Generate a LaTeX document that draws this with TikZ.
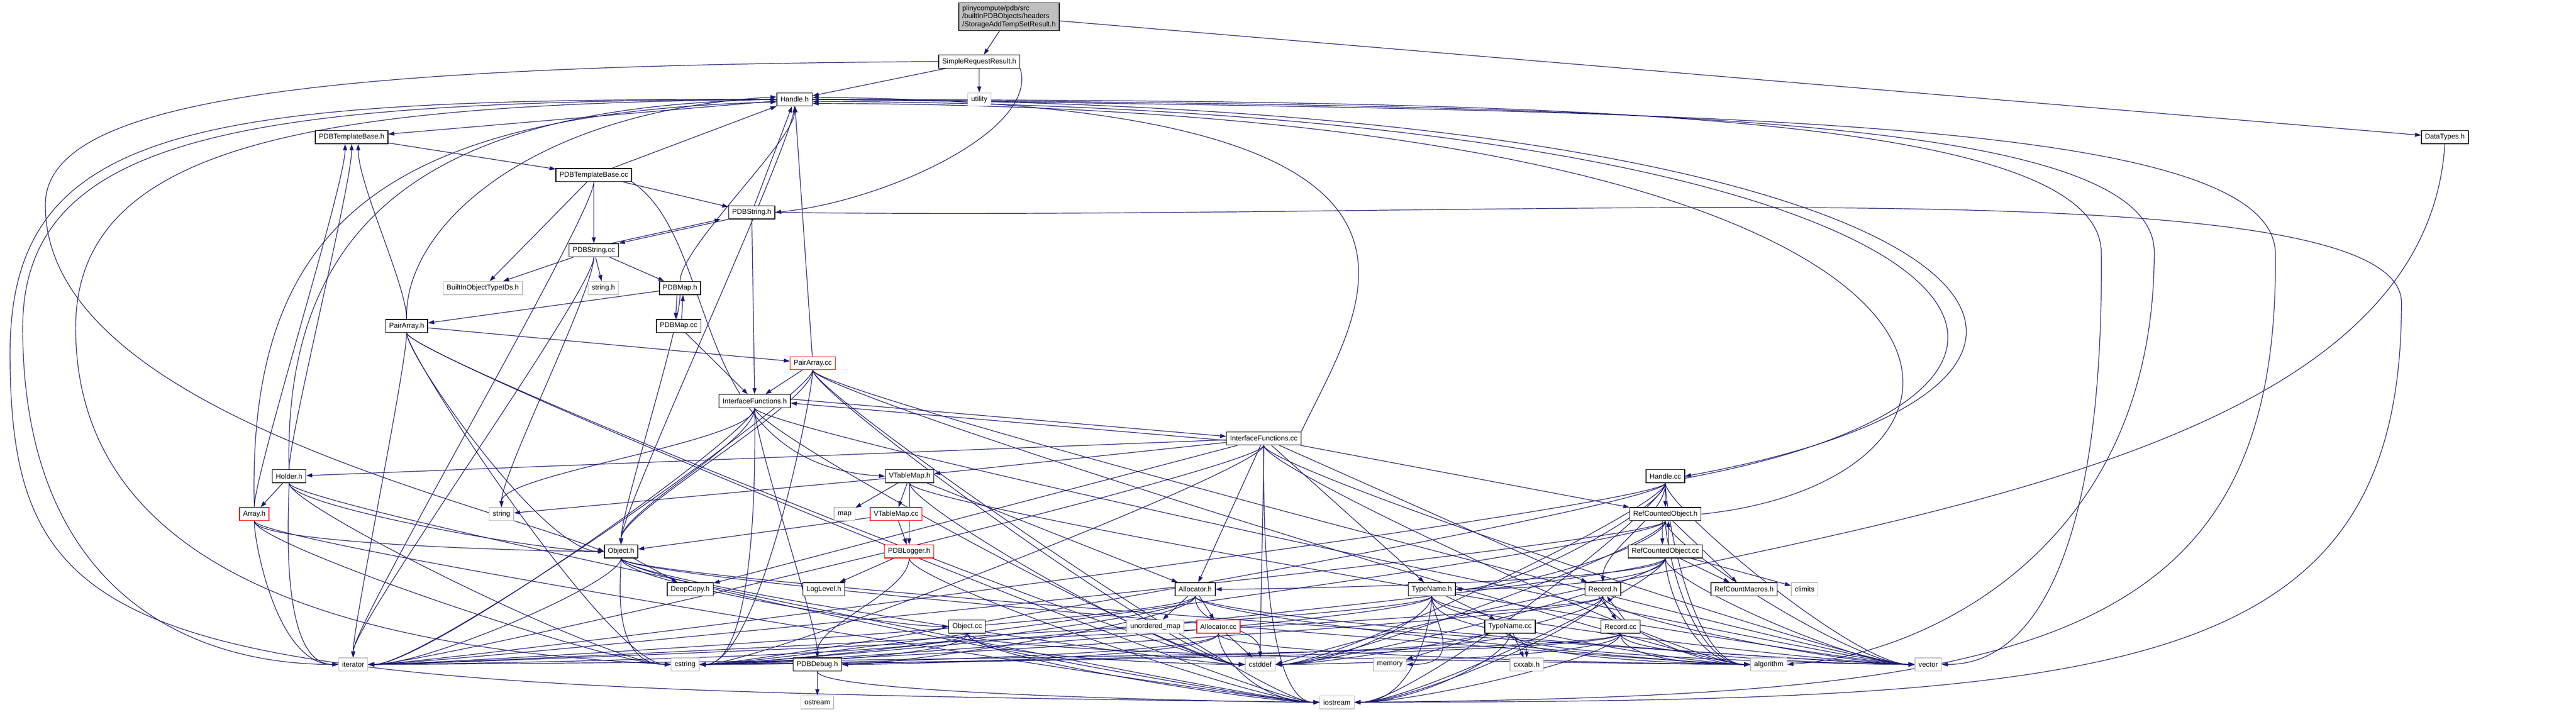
\documentclass[tikz,border=0pt]{standalone}
\usepackage{fontspec}
\setmainfont{Liberation Sans}
\usetikzlibrary{arrows.meta,backgrounds}
\definecolor{edgeblue}{HTML}{191970}
\definecolor{sysgray}{HTML}{BFBFBF}
\definecolor{rootgray}{HTML}{BFBFBF}

\tikzset{
  lft/.style={to path={.. controls +(0,-0.6) and +(-1.2,0) .. (\tikztotarget.west)}},
  rgt/.style={to path={.. controls +(0,-0.6) and +(1.2,0) .. (\tikztotarget.east)}},
  dn/.style={to path={.. controls +(0,-0.8) and +(0,0.8) .. (\tikztotarget)}},
  upw/.style={to path={.. controls +(0,0.8) and +(0,-0.8) .. (\tikztotarget)}},
}

\begin{document}
\begin{tikzpicture}[
  every node/.style={font=\fontsize{4}{4.6}\selectfont},
  file/.style={draw=black, fill=white, line width=0.4pt, minimum height=0.26cm, inner xsep=0.07cm, inner ysep=0pt},
  sys/.style={file, draw=sysgray},
  redfile/.style={file, draw=red},
  rootfile/.style={file, fill=rootgray, align=left, minimum width=1.96cm, minimum height=0.55cm, inner ysep=0.03cm},
  dep/.style={draw=edgeblue, line width=0.35pt, -{Triangle[length=0.12cm,width=0.08cm]}},
]
\useasboundingbox (0,0) rectangle (51.06,-14.11);

% files, one rank per row
\node[rootfile] (root) at (20.00,-0.33) {plinycompute/pdb/src\\/builtInPDBObjects/headers\\/StorageAddTempSetResult.h};
\node[file] (srr) at (19.41,-1.22) {SimpleRequestResult.h};
\node[file] (handleh) at (15.75,-1.97) {Handle.h};
\node[sys] (utility) at (19.41,-1.97) {utility};
\node[file] (tbaseh) at (6.97,-2.72) {PDBTemplateBase.h};
\node[file] (datatypes) at (48.46,-2.72) {DataTypes.h};
\node[file] (tbasecc) at (11.77,-3.47) {PDBTemplateBase.cc};
\node[file] (strh) at (14.90,-4.21) {PDBString.h};
\node[file] (strcc) at (11.77,-4.96) {PDBString.cc};
\node[sys] (typeids) at (9.57,-5.71) {BuiltInObjectTypeIDs.h};
\node[sys] (stringh) at (11.96,-5.71) {string.h};
\node[file] (maph) at (13.48,-5.71) {PDBMap.h};
\node[file] (pairh) at (8.06,-6.46) {PairArray.h};
\node[file] (mapcc) at (13.45,-6.46) {PDBMap.cc};
\node[redfile] (paircc) at (16.11,-7.20) {PairArray.cc};
\node[file] (ifh) at (14.96,-7.95) {InterfaceFunctions.h};
\node[file] (ifcc) at (25.05,-8.69) {InterfaceFunctions.cc};
\node[file] (holder) at (5.73,-9.44) {Holder.h};
\node[file] (vtmaph) at (18.03,-9.44) {VTableMap.h};
\node[file] (handlecc) at (33.01,-9.44) {Handle.cc};
\node[redfile] (array) at (5.04,-10.19) {Array.h};
\node[sys] (string) at (9.94,-10.19) {string};
\node[sys] (map) at (16.74,-10.19) {map};
\node[redfile] (vtmapcc) at (17.76,-10.19) {VTableMap.cc};
\node[file] (refh) at (33.01,-10.19) {RefCountedObject.h};
\node[file] (objh) at (12.31,-10.93) {Object.h};
\node[redfile] (logger) at (18.02,-10.93) {PDBLogger.h};
\node[file] (refcc) at (33.01,-10.93) {RefCountedObject.cc};
\node[file] (deepcopy) at (13.68,-11.68) {DeepCopy.h};
\node[file] (loglevel) at (16.33,-11.68) {LogLevel.h};
\node[file] (alloch) at (23.69,-11.68) {Allocator.h};
\node[file] (tnameh) at (28.38,-11.68) {TypeName.h};
\node[file] (recordh) at (31.77,-11.68) {Record.h};
\node[file] (macros) at (34.57,-11.68) {RefCountMacros.h};
\node[sys] (climits) at (35.77,-11.68) {climits};
\node[file] (objcc) at (19.17,-12.42) {Object.cc};
\node[sys] (umap) at (22.90,-12.42) {unordered\_map};
\node[redfile] (alloccc) at (24.15,-12.42) {Allocator.cc};
\node[file] (tnamecc) at (29.93,-12.42) {TypeName.cc};
\node[file] (recordcc) at (32.12,-12.42) {Record.cc};
\node[sys] (iterator) at (7.00,-13.17) {iterator};
\node[sys] (cstring) at (13.58,-13.17) {cstring};
\node[file] (debug) at (16.20,-13.17) {PDBDebug.h};
\node[sys] (cstddef) at (24.98,-13.17) {cstddef};
\node[sys] (memory) at (27.55,-13.17) {memory};
\node[sys] (cxxabi) at (30.26,-13.17) {cxxabi.h};
\node[sys] (algorithm) at (35.06,-13.17) {algorithm};
\node[sys] (vector) at (38.22,-13.17) {vector};
\node[sys] (ostream) at (16.20,-13.92) {ostream};
\node[sys] (iostream) at (26.50,-13.92) {iostream};

\begin{scope}[on background layer]
% straight includes
\foreach \a/\b in {root/srr, root/datatypes, srr/handleh, srr/utility, handleh/tbaseh, tbaseh/tbasecc,
    tbasecc/strh, tbasecc/strcc, tbasecc/typeids, tbasecc/handleh, strh/handleh, strh/ifh, strcc/typeids,
    strcc/stringh, strcc/maph, maph/pairh, pairh/paircc, paircc/ifh, paircc/handleh, mapcc/ifh,
    ifcc/holder, ifcc/vtmaph, ifcc/refh, ifcc/tnameh, ifcc/recordh, ifcc/alloch, ifcc/deepcopy,
    holder/array, vtmaph/map, vtmaph/vtmapcc, vtmaph/string, vtmaph/alloch, vtmapcc/logger, vtmapcc/objh,
    logger/loglevel, alloch/umap, alloch/alloccc, alloccc/cstddef, objh/deepcopy, handlecc/refh,
    refcc/macros, refh/macros, refcc/climits, tnameh/tnamecc, tnamecc/cxxabi, tnamecc/memory, debug/ostream}
  \draw[dep] (\a) -- (\b);
% bent includes, top to top
\foreach \a/\b in {handleh/objh, tbasecc/iterator, strcc/iterator, strcc/string, maph/objh, ifh/objh,
    paircc/objh, ifh/string, ifh/debug, logger/debug, vtmaph/logger, tnameh/cxxabi, pairh/iterator,
    ifcc/cstddef, handlecc/recordh, alloch/cstddef}
  \draw[dep] (\a) to[dn] (\b);
% coming in from the left
\foreach \a/\b in {holder/iterator, array/iterator, holder/cstring, array/cstring, pairh/cstring, objh/cstring,
    holder/objh, array/objh, pairh/objh, objh/objcc, pairh/cstddef, paircc/cstddef, objh/cstddef,
    objcc/cstddef, ifh/cstddef, vtmaph/cstddef, holder/iostream, array/iostream, pairh/iostream,
    objh/iostream, debug/iostream, objcc/iostream, paircc/iostream, alloccc/iostream, logger/iostream,
    ifcc/iostream, objh/algorithm, objcc/algorithm, paircc/algorithm, ifcc/algorithm, alloch/algorithm,
    alloccc/algorithm, tnameh/algorithm, tnamecc/algorithm, recordh/algorithm, recordcc/algorithm,
    handlecc/algorithm, refh/algorithm, refcc/algorithm, objh/vector, paircc/vector, ifcc/vector,
    alloch/vector, tnameh/vector, tnamecc/vector, recordh/vector, recordcc/vector, handlecc/vector,
    refh/vector, refcc/vector, vtmaph/vector, ifh/vector}
  \draw[dep] (\a) to[lft] (\b);
% coming in from the right
\foreach \a/\b in {paircc/iterator, ifh/iterator, objh/iterator, objcc/iterator, ifcc/iterator,
    alloch/iterator, handlecc/iterator, refh/iterator, tnameh/iterator, recordh/iterator,
    recordcc/iterator, paircc/cstring, ifh/cstring, objcc/cstring, ifcc/cstring, alloch/cstring,
    alloccc/cstring, handlecc/cstring, refh/cstring, refcc/cstring, tnameh/cstring, tnamecc/cstring,
    recordh/cstring, recordcc/cstring, handlecc/cstddef, refh/cstddef, refcc/cstddef, recordh/cstddef,
    recordcc/cstddef, tnameh/cstddef, tnameh/iostream, tnamecc/iostream, recordh/iostream,
    recordcc/iostream, refcc/iostream, handlecc/iostream, tnameh/memory, alloccc/debug, alloch/debug,
    refcc/alloch, handlecc/tnameh, refh/tnameh, refcc/tnameh}
  \draw[dep] (\a) to[rgt] (\b);
% back edges, upwards
\draw[dep] (maph) to[upw] (handleh);
\draw[dep] (pairh) to[upw] ([xshift=0.13cm]tbaseh.south);
\draw[dep] (holder) to[upw] (tbaseh.south);
\draw[dep] (array) to[upw] ([xshift=-0.13cm]tbaseh.south);
\draw[dep] (holder.north) .. controls (5.6,-4) and (9,-2.1) .. (handleh.west);
\draw[dep] (array.north) .. controls (4.9,-4.5) and (7.5,-2.25) .. ([yshift=-0.05cm]handleh.west);
\draw[dep] (pairh.north) .. controls (8.0,-4.5) and (10.5,-2.2) .. ([yshift=0.05cm]handleh.west);
\draw[dep] (ifcc.north east) .. controls (27,-6) and (30,-2.05) .. ([yshift=0.04cm]handleh.east);
\draw[dep] (refh.east) .. controls (40.5,-9.5) and (41,-2.1) .. ([yshift=-0.08cm]handleh.east);
% two-way pairs
\draw[dep] (strh.south west) -- (strcc.north east);
\draw[dep] ([xshift=-0.15cm]strcc.north east) -- ([xshift=-0.15cm]strh.south west);
\draw[dep] ([xshift=-0.06cm]maph.south) -- ([xshift=-0.06cm]mapcc.north);
\draw[dep] ([xshift=0.06cm]mapcc.north) -- ([xshift=0.06cm]maph.south);
\draw[dep] ([xshift=-0.06cm]refh.south) -- ([xshift=-0.06cm]refcc.north);
\draw[dep] ([xshift=0.06cm]refcc.north) -- ([xshift=0.06cm]refh.south);
\draw[dep] ([xshift=-0.08cm]recordh.south) -- ([xshift=-0.08cm]recordcc.north);
\draw[dep] ([xshift=0.08cm]recordcc.north) -- ([xshift=0.08cm]recordh.south);
\draw[dep] ([yshift=0.04cm]ifh.east) -- ([yshift=0.04cm]ifcc.west);
\draw[dep] ([yshift=-0.04cm]ifcc.west) -- ([yshift=-0.04cm]ifh.east);
\draw[dep] (handleh.east) .. controls (40,-2.0) and (44,-7.5) .. (handlecc.east);
\draw[dep] ([yshift=-0.04cm]handlecc.east) .. controls (43.5,-7.6) and (39.5,-2.1) .. ([yshift=-0.04cm]handleh.east);
% long ways round
\draw[dep] (srr.west) .. controls (6,-1.3) and (1.0,-2.0) .. (0.9,-4.0) .. controls (0.8,-8) and (9,-9.8) .. (objh.west);
\draw[dep] (srr.south east) .. controls (20.6,-2.6) and (17.5,-4.0) .. (strh.east);
\draw[dep] (datatypes.south) .. controls (48,-10) and (34,-10.5) .. (cstddef.east);
\draw[dep] (tbasecc.south east) .. controls (14.3,-4.8) and (13.6,-9.2) .. (vtmaph.west);
\draw[dep] (handleh.west) .. controls (5,-2.0) and (0.45,-2.6) .. (0.45,-6.5) .. controls (0.45,-11.5) and (3.5,-13.17) .. (iterator.west);
\draw[dep] (handleh.west) .. controls (6,-2.05) and (1.5,-2.9) .. (1.5,-6.5) .. controls (1.5,-11.8) and (8,-12.9) .. (cstring.west);
\draw[dep] (handleh.west) .. controls (4,-1.95) and (0.2,-2.4) .. (0.2,-7) .. controls (0.2,-13.3) and (3,-13.65) .. (iostream.west);
\draw[dep] (handleh.east) .. controls (30,-2.0) and (41.6,-2.1) .. (41.65,-5) .. controls (41.7,-10.5) and (40.5,-13.17) .. (vector.east);
\draw[dep] (handleh.east) .. controls (32,-2.1) and (42.7,-2.2) .. (42.7,-5) .. controls (42.7,-11) and (38,-13.0) .. (algorithm.east);
\draw[dep] (handleh.east) .. controls (34,-2.2) and (45,-2.3) .. (45.1,-5) .. controls (45.2,-13) and (40,-13.8) .. (iostream.east);
\draw[dep] (strh.east) .. controls (30,-4.4) and (47.6,-3.2) .. (47.6,-6) .. controls (47.6,-13.5) and (42,-13.9) .. (iostream.east);
\end{scope}
\end{tikzpicture}
\end{document}
